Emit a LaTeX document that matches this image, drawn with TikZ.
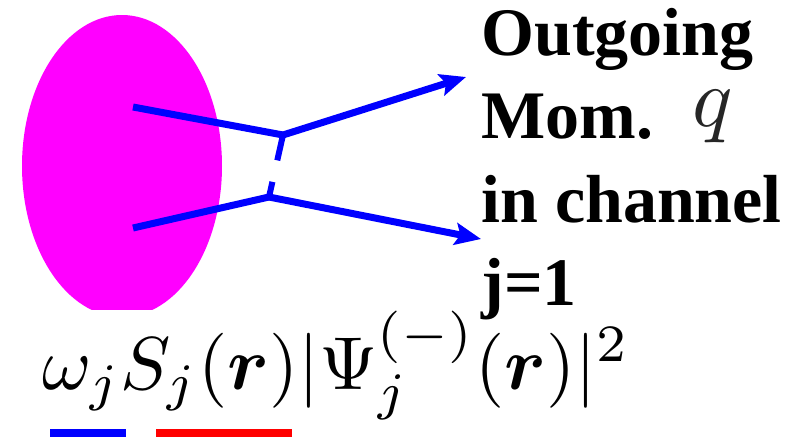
\documentclass[tikz,border=0pt]{standalone}
\usepackage{amsmath}
\usepackage{fontspec}
\setmainfont{Liberation Serif}
\usetikzlibrary{arrows.meta}
\definecolor{mag}{RGB}{255,0,255}
\begin{document}
\begin{tikzpicture}[x=0.5pt,y=-0.5pt,
  leg/.style={blue, line width=3.5pt},
  arr/.style={leg, -{Stealth[length=13pt,width=11pt,inset=2.5pt]}},
  lbl/.style={anchor=base west, inner sep=0pt, font=\fontsize{34}{40}\selectfont\bfseries},
  mathlbl/.style={anchor=base west, inner sep=0pt}]
\useasboundingbox (0,0) rectangle (800,440);
\begin{scope}
  \clip (0,0) rectangle (800,309);
  \fill[mag] (122,166) ellipse [x radius=100, y radius=151];
\end{scope}
\coordinate (a1) at (133,107);
\coordinate (v1) at (283,135);
\coordinate (t1) at (466,77);
\coordinate (a2) at (133,228);
\coordinate (v2) at (269,197);
\coordinate (t2) at (481,239);
\draw[leg] (a1) -- (v1);
\draw[arr] (v1) -- (t1);
\draw[leg] (a2) -- (v2);
\draw[arr] (v2) -- (t2);
\draw[leg, line width=3pt, dash pattern=on 13pt off 11pt] (v1) -- (v2);
\node[lbl] (l1) at (481,55) {Outgoing};
\node[lbl] (l2) at (481,138) {Mom.};
\node[mathlbl, scale=4.2, text=black!85] (q) at (691,126) {$q$};
\node[lbl] (l3) at (481,222) {in channel};
\node[lbl] (l4) at (481,305) {j=1};
\node[mathlbl, scale=3.75] (f) at (41,389) {$\omega_j S_j(\boldsymbol{r})|\Psi_j^{(-)}(\boldsymbol{r})|^2$};
\fill[blue] (50,429) rectangle (126,437);
\fill[red] (156,429) rectangle (292,437);
\end{tikzpicture}
\end{document}
